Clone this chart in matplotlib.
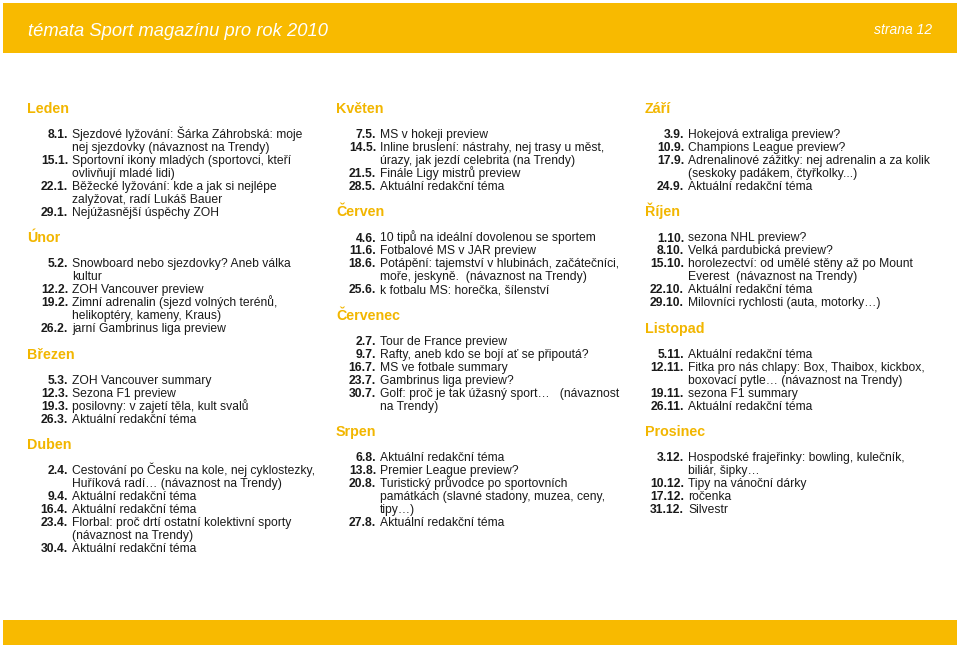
import matplotlib
matplotlib.use("Agg")
import matplotlib.pyplot as plt
from matplotlib.patches import Rectangle

plt.rcParams['font.family'] = ['Liberation Sans', 'DejaVu Sans']

title_text = "témata Sport magazínu pro rok 2010"
page_text = "strana 12"

# ---- data: months, dates, topics ----
leden_dates = ["8.1.", "15.1.", "22.1.", "29.1."]
leden_topics = ["Sjezdové lyžování: Šárka Záhrobská: moje\nnej sjezdovky (návaznost na Trendy)",
                "Sportovní ikony mladých (sportovci, kteří\novlivňují mladé lidi)",
                "Běžecké lyžování: kde a jak si nejlépe\nzalyžovat, radí Lukáš Bauer",
                "Nejúžasnější úspěchy ZOH"]
unor_dates = ["5.2.", "12.2.", "19.2.", "26.2."]
unor_topics = ["Snowboard nebo sjezdovky? Aneb válka\nkultur",
               "ZOH Vancouver preview",
               "Zimní adrenalin (sjezd volných terénů,\nhelikoptéry, kameny, Kraus)",
               "jarní Gambrinus liga preview"]
brezen_dates = ["5.3.", "12.3.", "19.3.", "26.3."]
brezen_topics = ["ZOH Vancouver summary", "Sezona F1 preview",
                 "posilovny: v zajetí těla, kult svalů", "Aktuální redakční téma"]
duben_dates = ["2.4.", "9.4.", "16.4.", "23.4.", "30.4."]
duben_topics = ["Cestování po Česku na kole, nej cyklostezky,\nHuříková radí… (návaznost na Trendy)",
                "Aktuální redakční téma", "Aktuální redakční téma",
                "Florbal: proč drtí ostatní kolektivní sporty\n(návaznost na Trendy)",
                "Aktuální redakční téma"]
kveten_dates = ["7.5.", "14.5.", "21.5.", "28.5."]
kveten_topics = ["MS v hokeji preview",
                 "Inline bruslení: nástrahy, nej trasy u měst,\núrazy, jak jezdí celebrita (na Trendy)",
                 "Finále Ligy mistrů preview", "Aktuální redakční téma"]
cerven_dates = ["4.6.", "11.6.", "18.6.", "25.6."]
cerven_topics = ["10 tipů na ideální dovolenou se sportem", "Fotbalové MS v JAR preview",
                 "Potápění: tajemství v hlubinách, začátečníci,\nmoře, jeskyně.  (návaznost na Trendy)",
                 "k fotbalu MS: horečka, šílenství"]
cervenec_dates = ["2.7.", "9.7.", "16.7.", "23.7.", "30.7."]
cervenec_topics = ["Tour de France preview", "Rafty, aneb kdo se bojí ať se připoutá?",
                   "MS ve fotbale summary", "Gambrinus liga preview?",
                   "Golf: proč je tak úžasný sport…   (návaznost\nna Trendy)"]
srpen_dates = ["6.8.", "13.8.", "20.8.", "27.8."]
srpen_topics = ["Aktuální redakční téma", "Premier League preview?",
                "Turistický průvodce po sportovních\npamátkách (slavné stadony, muzea, ceny,\ntipy…)",
                "Aktuální redakční téma"]
zari_dates = ["3.9.", "10.9.", "17.9.", "24.9."]
zari_topics = ["Hokejová extraliga preview?", "Champions League preview?",
               "Adrenalinové zážitky: nej adrenalin a za kolik\n(seskoky padákem, čtyřkolky...)",
               "Aktuální redakční téma"]
rijen_dates = ["1.10.", "8.10.", "15.10.", "22.10.", "29.10."]
rijen_topics = ["sezona NHL preview?", "Velká pardubická preview?",
                "horolezectví: od umělé stěny až po Mount\nEverest  (návaznost na Trendy)",
                "Aktuální redakční téma", "Milovníci rychlosti (auta, motorky…)"]
listopad_dates = ["5.11.", "12.11.", "19.11.", "26.11."]
listopad_topics = ["Aktuální redakční téma",
                   "Fitka pro nás chlapy: Box, Thaibox, kickbox,\nboxovací pytle… (návaznost na Trendy)",
                   "sezona F1 summary", "Aktuální redakční téma"]
prosinec_dates = ["3.12.", "10.12.", "17.12.", "31.12."]
prosinec_topics = ["Hospodské frajeřinky: bowling, kulečník,\nbiliár, šipky…",
                   "Tipy na vánoční dárky", "ročenka", "Silvestr"]

columns = [
    [("Leden", leden_dates, leden_topics), ("Únor", unor_dates, unor_topics),
     ("Březen", brezen_dates, brezen_topics), ("Duben", duben_dates, duben_topics)],
    [("Květen", kveten_dates, kveten_topics), ("Červen", cerven_dates, cerven_topics),
     ("Červenec", cervenec_dates, cervenec_topics), ("Srpen", srpen_dates, srpen_topics)],
    [("Září", zari_dates, zari_topics), ("Říjen", rijen_dates, rijen_topics),
     ("Listopad", listopad_dates, listopad_topics), ("Prosinec", prosinec_dates, prosinec_topics)],
]

# ---- layout ----
W, H = 960, 647
YELLOW = "#F8BA00"
HEAD = "#F2B600"
TXT = "#1a1a1a"
col_heading_x = [27, 336, 645]
col_date_right = [68, 376, 684]
col_text_x = [72, 380, 688]
LINE = 12.95
GAP = 25.8
FS = 8.75
BASE = 4.3

fig = plt.figure(figsize=(W / 100, H / 100), dpi=100)
ax = fig.add_axes([0, 0, 1, 1])
ax.set_xlim(0, W)
ax.set_ylim(H, 0)
ax.axis("off")

ax.add_patch(Rectangle((3, 3), 954, 50, color=YELLOW, lw=0))
ax.add_patch(Rectangle((3, 620), 954, 25, color=YELLOW, lw=0))
ax.text(28, 30 + 6, title_text, color="white", fontsize=13.2, style="italic",
        va="baseline", ha="left")
ax.text(932, 30 + 4.5, page_text, color="white", fontsize=10, style="italic",
        va="baseline", ha="right")

for ci, col in enumerate(columns):
    y = 108
    for mi, (month, dates, topics) in enumerate(col):
        ax.text(col_heading_x[ci], y + 5, month, color=HEAD, fontsize=10.3,
                fontweight="bold", va="baseline", ha="left")
        y += GAP
        for d, t in zip(dates, topics):
            ax.text(col_date_right[ci], y + BASE, d, color=TXT, fontsize=FS,
                    fontweight="bold", va="baseline", ha="right")
            for k, line in enumerate(t.split("\n")):
                ax.text(col_text_x[ci], y + BASE + k * LINE, line, color=TXT,
                        fontsize=FS, va="baseline", ha="left")
            y += LINE * len(t.split("\n"))
        y += GAP - LINE

fig.savefig("out.png", dpi=100, facecolor="white")
